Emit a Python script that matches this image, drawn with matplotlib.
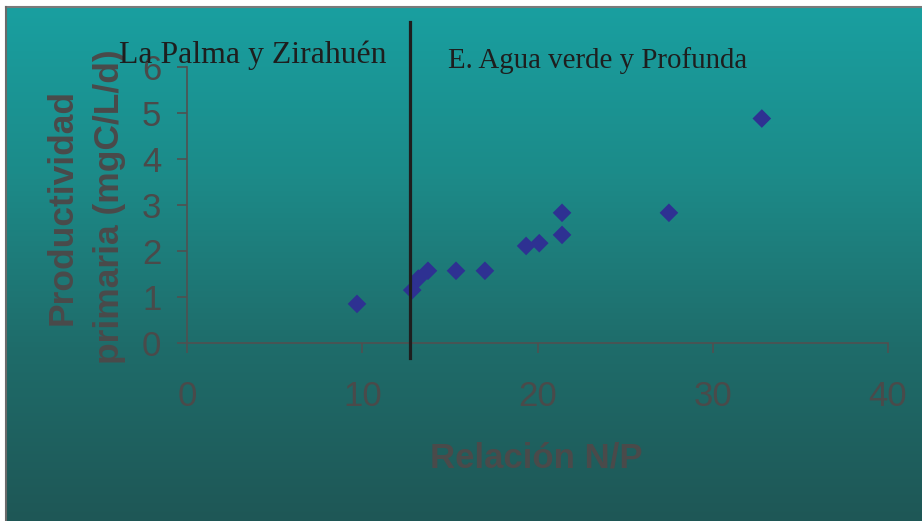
import numpy as np
import matplotlib
matplotlib.use("Agg")
import matplotlib.pyplot as plt
from matplotlib.colors import LinearSegmentedColormap
from matplotlib import transforms

# ---- data ----
np_ratio = [9.7, 12.85, 13.2, 13.75, 15.35, 17.0, 19.35, 20.1, 21.4, 21.4, 27.5, 32.8]
productivity = [0.85, 1.15, 1.4, 1.57, 1.57, 1.57, 2.11, 2.17, 2.35, 2.83, 2.83, 4.88]
divider_x = 12.75
x_ticks = [0, 10, 20, 30, 40]
y_ticks = [0, 1, 2, 3, 4, 5, 6]
xlabel = "Relación N/P"
ylabel = "Productividad\nprimaria (mgC/L/d)"
left_note = "La Palma y Zirahuén"
right_note = "E. Agua verde y Profunda"

W, H = 922, 521
fig = plt.figure(figsize=(W / 100, H / 100), dpi=100)

# background gradient
bg = fig.add_axes([0, 0, 1, 1], zorder=-10)
cmap = LinearSegmentedColormap.from_list("bg", ["#19a0a1", "#1c8b89", "#1f6c6a", "#1e5756"])
grad = np.linspace(0, 1, 256).reshape(-1, 1)
bg.imshow(grad, aspect="auto", cmap=cmap, extent=[0, 1, 0, 1], origin="upper")
bg.set_xlim(0, 1)
bg.set_ylim(0, 1)
bg.axis("off")
bg.axhspan(1 - 6 / H, 1, color="white", zorder=2)
bg.axvspan(0, 5 / W, color="white", zorder=2)
bg.plot([5.5 / W, 1], [1 - 6.5 / H, 1 - 6.5 / H], color="#7a7a7a", lw=1.5, zorder=3)
bg.plot([5.5 / W, 5.5 / W], [0, 1 - 6.5 / H], color="#6a6a6a", lw=1.5, zorder=3)

ax = fig.add_axes([187 / W, 1 - 343 / H, (888 - 187) / W, (343 - 67) / H])
ax.patch.set_alpha(0)
ax.set_xlim(0, 40)
ax.set_ylim(0, 6)

gray = "#4a4a4a"
narrow = ["Liberation Sans Narrow", "Liberation Sans", "DejaVu Sans"]

ax.scatter(np_ratio, productivity, marker="D", s=9.5 ** 2, color="#2e3192",
           edgecolors="none", zorder=3, clip_on=False)

for s in ["top", "right"]:
    ax.spines[s].set_visible(False)
for s in ["left", "bottom"]:
    ax.spines[s].set_color("#505050")
    ax.spines[s].set_linewidth(1.2)

ax.set_xticks(x_ticks)
ax.set_yticks(y_ticks)
ax.tick_params(axis="x", direction="out", length=7.5, width=1.2, color="#505050",
               pad=19, labelsize=25, labelcolor=gray)
ax.tick_params(axis="y", direction="out", length=7.5, width=1.2, color="#505050",
               pad=11, labelsize=25, labelcolor=gray)
for lab in ax.get_xticklabels() + ax.get_yticklabels():
    lab.set_family(narrow)

# divider line
trans = transforms.blended_transform_factory(ax.transData, fig.transFigure)
ax.plot([divider_x, divider_x], [1 - 358 / H, 1 - 22 / H], color="#1e1e1e", lw=2.3,
        transform=trans, clip_on=False, zorder=5)

# annotations
fig.text(119 / W, 1 - 63 / H, left_note, family="Liberation Serif", fontsize=22.9,
         color="#1e1e1e", ha="left", va="baseline", zorder=6)
fig.text(448 / W, 1 - 68 / H, right_note, family="Liberation Serif", fontsize=20.8,
         color="#1e1e1e", ha="left", va="baseline", zorder=6)

# axis labels
fig.text(86 / W, 1 - 207 / H, ylabel, rotation=90, ha="center", va="center",
         multialignment="center", family="Liberation Sans", weight="bold",
         fontsize=25.5, color=gray, linespacing=1.55)
fig.text(536 / W, 1 - 458 / H, xlabel, ha="center", va="center", family=narrow,
         weight="bold", fontsize=25, color=gray)

fig.savefig("out.png", dpi=100)
